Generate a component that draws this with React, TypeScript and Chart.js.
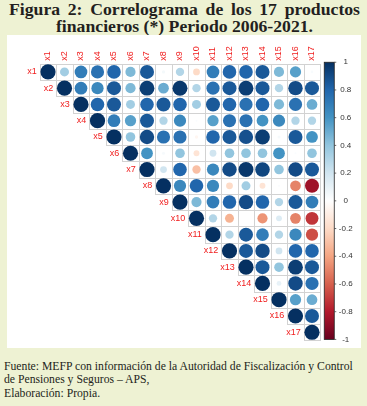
import React, { useEffect, useRef } from 'react';
import { Chart, registerables } from 'chart.js';

Chart.register(...registerables);

// Variable names
const varLabels = ['x1', 'x2', 'x3', 'x4', 'x5', 'x6', 'x7', 'x8', 'x9', 'x10', 'x11', 'x12', 'x13', 'x14', 'x15', 'x16', 'x17'];

// Upper-triangle correlations (row xi, columns xi..x17)
const rowX1 = [1, 0.35, 0.7, 0.75, 0.8, 0.45, 0.85, 0.05, 0.3, -0.2, 0.7, 0.8, 0.8, 0.85, 0.45, 0.55, 0.03];
const rowX2 = [1, 0.7, 0.65, 0.85, 0.45, 0.95, 0.5, 0.97, 0.3, 0.75, 0.85, 0.95, 0.85, 0.3, 0.9, 0.85];
const rowX3 = [1, 0.8, 0.85, 0.35, 0.8, 0.85, 0.8, 0.35, 0.85, 0.8, 0.75, 0.8, 0.45, 0.75, 0.5];
const rowX4 = [1, 0.7, 0.55, 0.85, 0.3, 0.65, 0.02, 0.55, 0.75, 0.75, 0.6, 0.65, 0.3, 0.3];
const rowX5 = [1, 0.4, 0.9, 0.75, 0.75, -0.05, 0.8, 0.85, 0.88, 0.95, 0.04, 0.85, 0.6];
const rowX6 = [1, 0.6, 0.04, 0.4, -0.15, 0.2, 0.4, 0.4, 0.4, 0.6, 0.02, 0.4];
const rowX7 = [1, 0.2, 0.8, -0.3, 0.65, 0.9, 0.97, 0.92, 0.4, 0.9, 0.85];
const rowX8 = [1, 0.65, 0.8, 0.65, -0.2, 0.35, -0.15, 0.02, -0.5, -0.85];
const rowX9 = [1, 0.45, 0.7, 0.8, 0.9, 0.8, 0.3, 0.85, 0.7];
const rowX10 = [1, 0.3, -0.35, 0.0, -0.45, 0.15, -0.5, -0.72];
const rowX11 = [1, 0.3, 0.85, 0.7, 0.3, 0.65, -0.65];
const rowX12 = [1, 0.85, 0.9, 0.2, 0.8, 0.8];
const rowX13 = [1, 0.85, 0.4, 0.95, 0.85];
const rowX14 = [1, 0.1, 0.9, 0.75];
const rowX15 = [1, 0.55, 0.5];
const rowX16 = [1, 0.85];
const rowX17 = [1];

const corrRows = [rowX1, rowX2, rowX3, rowX4, rowX5, rowX6, rowX7, rowX8, rowX9, rowX10, rowX11, rowX12, rowX13, rowX14, rowX15, rowX16, rowX17];

// Colour legend ticks
const legendTicks = [1, 0.8, 0.6, 0.4, 0.2, 0, -0.2, -0.4, -0.6, -0.8, -1];

// RdBu palette from -1 to 1
const palette = ['#67001F', '#B2182B', '#D6604D', '#F4A582', '#FDDBC7', '#FFFFFF', '#D1E5F0', '#92C5DE', '#4393C3', '#2166AC', '#053061'];

function hexToRgb(h: string) {
  return [parseInt(h.slice(1, 3), 16), parseInt(h.slice(3, 5), 16), parseInt(h.slice(5, 7), 16)];
}

function corrColor(v: number) {
  const t = Math.max(0, Math.min(1, (v + 1) / 2)) * (palette.length - 1);
  const i = Math.min(palette.length - 2, Math.floor(t));
  const f = t - i;
  const a = hexToRgb(palette[i]);
  const b = hexToRgb(palette[i + 1]);
  const c = a.map((x, k) => Math.round(x + (b[k] - x) * f));
  return `rgb(${c[0]},${c[1]},${c[2]})`;
}

const points: { x: number; y: number; v: number }[] = [];
corrRows.forEach((row, i) => {
  row.forEach((v, k) => {
    points.push({ x: i + k + 1, y: i + 1, v });
  });
});

const labelFont = '9px "Liberation Sans", Arial, sans-serif';

const corrPlugin = {
  id: 'corrDecor',
  beforeDatasetsDraw(chart: any) {
    const { ctx, scales } = chart;
    const xs = scales.x;
    const ys = scales.y;
    ctx.save();
    ctx.strokeStyle = '#d2d2d2';
    ctx.lineWidth = 1;
    const n = varLabels.length;
    for (let i = 1; i <= n; i++) {
      for (let j = i; j <= n; j++) {
        const x0 = Math.round(xs.getPixelForValue(j - 0.5)) + 0.5;
        const x1 = Math.round(xs.getPixelForValue(j + 0.5)) + 0.5;
        const y0 = Math.round(ys.getPixelForValue(i - 0.5)) + 0.5;
        const y1 = Math.round(ys.getPixelForValue(i + 0.5)) + 0.5;
        ctx.strokeRect(x0, y0, x1 - x0, y1 - y0);
      }
    }
    ctx.restore();
  },
  afterDraw(chart: any) {
    const { ctx, scales, chartArea } = chart;
    const xs = scales.x;
    const ys = scales.y;
    ctx.save();
    ctx.font = labelFont;
    ctx.fillStyle = '#f01e1e';
    // row labels
    ctx.textAlign = 'right';
    ctx.textBaseline = 'middle';
    varLabels.forEach((lab, i) => {
      const x = xs.getPixelForValue(i + 1 - 0.5) - 3;
      const y = ys.getPixelForValue(i + 1);
      ctx.fillText(lab, x, y);
    });
    // column labels (rotated)
    varLabels.forEach((lab, j) => {
      const x = xs.getPixelForValue(j + 1);
      const y = chartArea.top - 3;
      ctx.save();
      ctx.translate(x, y);
      ctx.rotate(-Math.PI / 2);
      ctx.textAlign = 'left';
      ctx.textBaseline = 'middle';
      ctx.fillText(lab, 0, 0);
      ctx.restore();
    });
    // colour legend
    const bx0 = chartArea.right + 4;
    const bx1 = bx0 + 10;
    const by0 = chartArea.top - 1.5;
    const by1 = chartArea.bottom - 1;
    const grad = ctx.createLinearGradient(0, by0, 0, by1);
    palette.slice().reverse().forEach((c, k) => grad.addColorStop(k / (palette.length - 1), c));
    ctx.fillStyle = grad;
    ctx.fillRect(bx0, by0, bx1 - bx0, by1 - by0);
    ctx.strokeStyle = '#222';
    ctx.lineWidth = 0.8;
    ctx.strokeRect(bx0, by0, bx1 - bx0, by1 - by0);
    ctx.font = '8px "Liberation Sans", Arial, sans-serif';
    ctx.fillStyle = '#333';
    ctx.textAlign = 'center';
    ctx.textBaseline = 'middle';
    legendTicks.forEach((t) => {
      const y = by0 + ((1 - t) / 2) * (by1 - by0);
      ctx.beginPath();
      ctx.moveTo(bx1, y);
      ctx.lineTo(bx1 + 2, y);
      ctx.strokeStyle = '#444';
      ctx.stroke();
      ctx.fillText(String(t), bx1 + 11.5, y);
    });
    ctx.restore();
  },
};

export default function App() {
  const ref = useRef<HTMLCanvasElement>(null);
  useEffect(() => {
    const radiusFn = (c: any) => {
      const v = c.raw ? c.raw.v : 0;
      const a = c.chart.chartArea;
      const cell = a ? (a.right - a.left) / varLabels.length : 16.5;
      return 0.46 * cell * Math.sqrt(Math.abs(v));
    };
    const chart = new Chart(ref.current as HTMLCanvasElement, {
      type: 'scatter',
      data: {
        datasets: [
          {
            data: points as any,
            pointRadius: radiusFn,
            pointHoverRadius: radiusFn,
            pointBackgroundColor: (c: any) => corrColor(c.raw ? c.raw.v : 0),
            pointBorderColor: (c: any) => corrColor(c.raw ? c.raw.v : 0),
            pointBorderWidth: 0,
          } as any,
        ],
      },
      options: {
        responsive: false,
        animation: false,
        layout: { padding: { left: 32.75, right: 40.75, top: 28.75, bottom: 4.75 } },
        scales: {
          x: { type: 'linear', min: 0.5, max: 17.5, display: false },
          y: { type: 'linear', min: 0.5, max: 17.5, reverse: true, display: false },
        },
        plugins: { legend: { display: false }, tooltip: { enabled: false } },
        events: [],
      } as any,
      plugins: [corrPlugin],
    });
    return () => chart.destroy();
  }, []);

  return (
    <div
      style={{
        position: 'absolute',
        left: 0,
        top: 0,
        width: 367,
        height: 406,
        background: '#eef2d3',
        overflow: 'hidden',
        fontFamily: '"Liberation Serif", "Times New Roman", serif',
        color: '#231f20',
      }}
    >
      <div style={{ position: 'absolute', left: 9, top: 1, width: 351, fontWeight: 'bold', fontSize: 17.7, lineHeight: '16.5px' }}>
        <div style={{ textAlign: 'justify', textAlignLast: 'justify', whiteSpace: 'nowrap' } as any}>
          Figura 2: Correlograma de los 17 productos
        </div>
        <div style={{ textAlign: 'center' }}>financieros (*) Periodo 2006-2021.</div>
      </div>
      <canvas ref={ref} width={354} height={313} style={{ position: 'absolute', left: 7, top: 35, width: 354, height: 313, background: '#ffffff' }} />
      <div style={{ position: 'absolute', left: 4, top: 359.5, fontSize: 11.7, lineHeight: '13.5px', whiteSpace: 'nowrap' }}>
        Fuente: MEFP con información de la Autoridad de Fiscalización y Control
        <br />
        de Pensiones y Seguros – APS,
        <br />
        Elaboración: Propia.
      </div>
    </div>
  );
}
